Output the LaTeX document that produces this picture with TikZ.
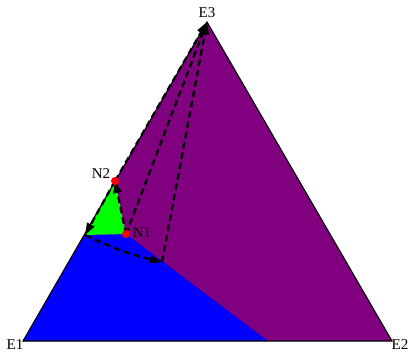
\documentclass[tikz,border=0pt]{standalone}
\usepackage{fontspec}
\setmainfont{Liberation Serif}
\usetikzlibrary{arrows.meta}
\definecolor{tpurple}{RGB}{128,0,128}
\definecolor{tblue}{RGB}{0,0,255}
\definecolor{tgreen}{RGB}{0,255,0}
\definecolor{tred}{RGB}{255,0,0}
\begin{document}
\begin{tikzpicture}[x=1pt,y=-1pt,
  lbl/.style={font=\fontsize{15}{17}\selectfont, inner sep=0pt, anchor=center},
  dot/.style={circle, fill=tred, minimum size=8pt, inner sep=0pt},
  flow/.style={line width=2.3pt, dash pattern=on 6.5pt off 4pt, -{Triangle[length=12pt,width=8pt]}},
  side/.style={line width=1.1pt, black}]
\useasboundingbox (0,0) rectangle (409,353);
\coordinate (E1) at (23,341);
\coordinate (E2) at (392,341);
\coordinate (E3) at (207,22);
\coordinate (P) at (85,235);
\coordinate (Q) at (162,262);
\coordinate (B) at (268,341);
\coordinate (N1c) at (126,234);
\coordinate (N2c) at (115,181);
% regions
\fill[tpurple] (E1) -- (E2) -- (E3) -- cycle;
\fill[tblue] (E1) -- (P) -- (N1c) -- (B) -- cycle;
\fill[tgreen] (N2c) -- (P) -- (N1c) -- cycle;
\draw[side] (E1) -- (E2) -- (E3) -- cycle;
% dashed paths
\draw[flow] (N1c) -- (N2c);
\draw[flow] (N2c) -- (P);
\draw[flow] (P) to[bend right=6] (Q);
\draw[flow] (Q) -- (E3);
\draw[flow] (N1c) -- (E3);
\draw[flow] (N2c) -- (E3);
% points
\node[dot] (N1) at (N1c) {};
\node[dot] (N2) at (N2c) {};
% labels
\node[lbl] (L1) at (15,345) {E1};
\node[lbl] (L2) at (400,345) {E2};
\node[lbl] (L3) at (207,13) {E3};
\node[lbl] (LN1) at (142,233) {N1};
\node[lbl] (LN2) at (101,174) {N2};
\end{tikzpicture}
\end{document}
